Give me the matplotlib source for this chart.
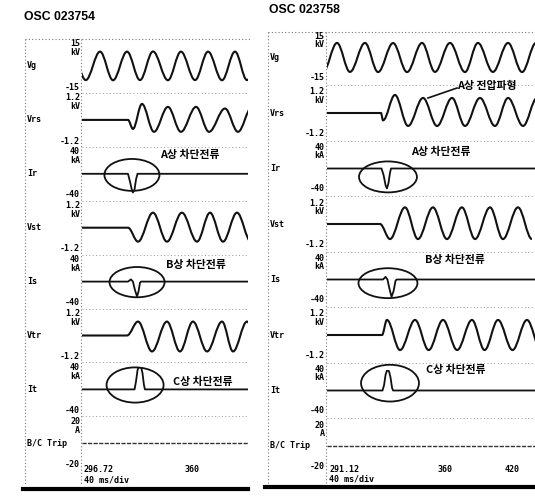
import matplotlib
matplotlib.use("Agg")
import matplotlib.pyplot as plt
from matplotlib.patches import Ellipse, PathPatch
from matplotlib.path import Path
from matplotlib.lines import Line2D

W, H = 535, 497

# channel definitions (same for both records)
channels = ["Vg", "Vrs", "Ir", "Vst", "Is", "Vtr", "It", "B/C Trip"]
scale_top = [15, 1.2, 40, 1.2, 40, 1.2, 40, 20]
scale_bot = [-15, -1.2, -40, -1.2, -40, -1.2, -40, -20]
units = ["kV", "kV", "kA", "kV", "kA", "kV", "kA", "A"]
smooth_ch = [True, True, False, True, False, True, False, False]

# ---- OSC 023754 (left) : time in ms, values in kV / kA ----
left_span = (296.72, 397.7)
vg_l_t = [290.8, 299.0, 307.7, 315.6, 324.1, 332.0, 339.9, 349.0, 356.9, 365.5, 373.4, 381.9, 389.8, 397.1, 405.5]
vg_l_v = [9.8, -9.6, 9.8, -9.7, 9.8, -9.6, 9.9, -9.7, 9.8, -9.6, 9.8, -9.7, 9.8, -9.6, 9.8]
vrs_l_t = [296.72, 324.7, 327.7, 333.2, 340.5, 349.0, 356.9, 366.1, 374.0, 383.7, 391.6, 400.1]
vrs_l_v = [0, 0, -0.49, 0.87, -0.65, 0.71, -0.65, 0.71, -0.65, 0.62, -0.65, 0.7]
ir_l_t = [296.72, 324.7, 325.9, 327.1, 327.7, 328.7, 329.6, 330.5, 397.7]
ir_l_v = [0, 0, -14, -30, -34, -28, -10, 0, 0]
vst_l_t = [296.72, 324.7, 330.8, 339.9, 348.4, 357.5, 366.7, 374.6, 382.5, 391.0, 399.5]
vst_l_v = [0, 0, -0.76, 0.82, -0.76, 0.82, -0.76, 0.82, -0.76, 0.82, -0.76]
is_l_t = [296.72, 324.7, 326.5, 327.7, 328.9, 330.2, 331.1, 332.0, 332.6, 397.7]
is_l_v = [0, 0, 4, 0, -15, -27, -18, -2, 0, 0]
vtr_l_t = [296.72, 324.1, 330.8, 339.3, 348.4, 356.3, 364.2, 372.8, 381.9, 388.6, 397.1, 405.0]
vtr_l_v = [0, 0, 0.76, -0.87, 0.76, -0.87, 0.76, -0.87, 0.76, -0.87, 0.76, -0.87]
it_l_t = [296.72, 328.7, 329.6, 330.5, 331.4, 332.6, 333.5, 334.4, 335.0, 397.7]
it_l_v = [0, 0, 15, 35, 42, 41, 30, 8, 0, 0]
trip_l_t = [296.72, 397.7]
trip_l_v = [0, 0]

# ---- OSC 023758 (right) ----
right_span = (291.12, 413.2)
vg_r_t = [288.8, 297.0, 304.6, 313.4, 321.1, 329.9, 338.1, 346.9, 354.5, 363.3, 372.1, 379.7, 388.5, 397.4, 405.6, 413.8]
vg_r_v = [-10.4, 10.4, -10.3, 10.4, -10.4, 10.3, -10.4, 10.4, -10.3, 10.4, -10.4, 10.4, -10.3, 10.4, -10.4, 10.4]
vrs_r_t = [291.12, 322.8, 324.0, 331.0, 338.7, 347.5, 355.7, 364.5, 372.1, 380.9, 389.7, 397.4, 406.2, 414.4]
vrs_r_v = [0, 0, -0.42, 1.03, -0.74, 0.86, -0.74, 0.86, -0.74, 0.86, -0.74, 0.86, -0.74, 0.86]
ir_r_t = [291.12, 323.1, 324.3, 325.5, 326.3, 327.2, 328.1, 328.7, 413.2]
ir_r_v = [0, 0, -12, -32, -38, -28, -8, 0, 0]
vst_r_t = [291.12, 322.2, 328.1, 336.9, 344.5, 353.3, 361.5, 370.3, 378.0, 386.8, 394.4, 403.2, 411.4]
vst_r_v = [0, 0, -0.86, 0.95, -0.86, 0.95, -0.86, 0.95, -0.86, 0.95, -0.86, 0.95, -0.86]
is_r_t = [291.12, 324.0, 325.5, 326.6, 327.8, 329.0, 330.2, 331.3, 331.9, 413.2]
is_r_v = [0, 0, 5, 0, -18, -33, -22, -3, 0, 0]
vtr_r_t = [291.12, 323.4, 326.3, 334.0, 342.8, 350.8, 359.2, 367.5, 376.2, 383.6, 391.5, 400.0, 408.5, 416.7]
vtr_r_v = [0, 0, 0.86, -0.86, 0.86, -0.86, 0.86, -0.86, 0.86, -0.86, 0.86, -0.86, 0.86, -0.86]
it_r_t = [291.12, 323.7, 324.6, 325.5, 326.3, 327.5, 328.4, 329.3, 329.9, 413.2]
it_r_v = [0, 0, 10, 30, 38, 37, 25, 5, 0, 0]
trip_r_t = [291.12, 413.2]
trip_r_v = [0, 0]

# circled breaking currents: (channel index, centre time, centre value, width ms, height units)
circles_l = [(2, 327.1, -2, 33.5, 58), (4, 330.2, -1, 33.5, 55), (6, 329.0, 8, 34.7, 64)]
circles_r = [(2, 326.9, -16, 34.0, 59), (4, 326.9, -7, 34.6, 57), (6, 328.1, 14, 34.0, 70)]

MONO = "DejaVu Sans Mono"
KR = ["Noto Sans CJK KR", "DejaVu Sans"]


def fx(px):
    return px / W


def fy(py):
    return 1 - py / H


def smooth_line(ax, t, v):
    verts = [(t[0], v[0])]
    codes = [Path.MOVETO]
    for i in range(1, len(t)):
        d = 0.36 * (t[i] - t[i - 1])
        verts += [(t[i - 1] + d, v[i - 1]), (t[i] - d, v[i]), (t[i], v[i])]
        codes += [Path.CURVE4] * 3
    ax.add_patch(PathPatch(Path(verts, codes), fill=False, lw=1.5, ec="#111111"))


def draw_panel(fig, title, title_xy, x_frame, x0, x1, zero0, step, half, span, series,
               circles, tick_labels, frame_top, bottom_y, label_y):
    fig.text(fx(title_xy[0]), fy(title_xy[1]), title, fontsize=8.8, fontweight="bold",
             family="Liberation Sans", va="center", ha="left")
    # dotted frame
    dots = dict(color="#777777", lw=0.8, ls=(0, (1, 2)))
    fig.add_artist(Line2D([fx(x_frame), fx(W if x1 >= W else x1 + 2)], [fy(frame_top)] * 2, **dots))
    fig.add_artist(Line2D([fx(x_frame)] * 2, [fy(frame_top), fy(bottom_y)], **dots))
    fig.add_artist(Line2D([fx(x0 - 1)] * 2, [fy(frame_top), fy(bottom_y)], **dots))
    axes = []
    for k, name in enumerate(channels):
        zero = zero0 + step * k
        ax = fig.add_axes([fx(x0), fy(zero + half), (x1 - x0) / W, 2 * half / H])
        ax.set_xlim(*span)
        ax.set_ylim(scale_bot[k], scale_top[k])
        ax.axis("off")
        t, v = series[k]
        if smooth_ch[k]:
            smooth_line(ax, t, v)
        elif k == 7:
            ax.plot(t, v, color="#333333", lw=1.0, ls=(0, (3, 1)))
        else:
            ax.plot(t, v, color="#111111", lw=1.3)
        # scale labels
        ax.text(-0.012, 1.0, f"{scale_top[k]:g}", transform=ax.transAxes, ha="right",
                va="center", fontsize=6, family=MONO, fontweight="bold")
        ax.text(-0.012, 0.8, units[k], transform=ax.transAxes, ha="right",
                va="center", fontsize=6, family=MONO, fontweight="bold")
        ax.text(-0.012, 0.02, f"{scale_bot[k]:g}", transform=ax.transAxes, ha="right",
                va="center", fontsize=6, family=MONO, fontweight="bold")
        fig.text(fx(x_frame + 2), fy(zero), name, ha="left", va="center",
                 fontsize=6, family=MONO, fontweight="bold")
        if k < 7:
            yb = zero + half + (step - 2 * half) / 2
            fig.add_artist(Line2D([fx(x0), fx(min(x1, W))], [fy(yb)] * 2,
                                  color="#999999", lw=0.7, ls=(0, (1, 2.5))))
        axes.append(ax)
    for k, tc, vc, w, h in circles:
        axes[k].add_patch(Ellipse((tc, vc), w, h, fill=False, lw=1.3,
                                  ec="#111111", clip_on=False))
    # time axis labels
    fig.text(fx(x0 + 2), fy(label_y), f"{span[0]:.2f}", ha="left", va="center",
             fontsize=6, family=MONO, fontweight="bold")
    fig.text(fx(x0 + 2), fy(label_y + 10), "40 ms/div", ha="left", va="center",
             fontsize=6, family=MONO, fontweight="bold")
    for lab, px in tick_labels:
        fig.text(fx(px), fy(label_y), lab, ha="center", va="center", fontsize=6,
                 family=MONO, fontweight="bold")
    return axes


fig = plt.figure(figsize=(W / 100, H / 100), dpi=100)
fig.patch.set_facecolor("white")

left_series = [(vg_l_t, vg_l_v), (vrs_l_t, vrs_l_v), (ir_l_t, ir_l_v), (vst_l_t, vst_l_v),
               (is_l_t, is_l_v), (vtr_l_t, vtr_l_v), (it_l_t, it_l_v), (trip_l_t, trip_l_v)]
right_series = [(vg_r_t, vg_r_v), (vrs_r_t, vrs_r_v), (ir_r_t, ir_r_v), (vst_r_t, vst_r_v),
                (is_r_t, is_r_v), (vtr_r_t, vtr_r_v), (it_r_t, it_r_v), (trip_r_t, trip_r_v)]

draw_panel(fig, "OSC 023754", (24, 17), 25, 82, 248, 66, 53.9, 22, left_span,
           left_series, circles_l, [("360", 192)], 39, 485, 470)
draw_panel(fig, "OSC 023758", (269, 10), 268, 327, 535, 57.5, 55.5, 21, right_span,
           right_series, circles_r, [("360", 445), ("420", 512)], 32, 483, 469)

# phase annotations
notes = [("A상 차단전류", 190, 155), ("B상 차단전류", 196, 265), ("C상 차단전류", 203, 382),
         ("A상 차단전류", 441, 152), ("B상 차단전류", 455, 260), ("C상 차단전류", 456, 370),
         ("A상 전압파형", 487, 86)]
for txt, px, py in notes:
    fig.text(fx(px), fy(py), txt, ha="center", va="center", fontsize=7.8,
             family=KR, fontweight="bold")
fig.add_artist(Line2D([fx(457), fx(428)], [fy(88), fy(98)], color="#111111", lw=1.2))

# heavy base lines of the printout
fig.add_artist(Line2D([fx(23), fx(248)], [fy(489)] * 2, color="black", lw=3))
fig.add_artist(Line2D([fx(265), fx(535)], [fy(487)] * 2, color="black", lw=3))

fig.savefig("out.png", dpi=100)
